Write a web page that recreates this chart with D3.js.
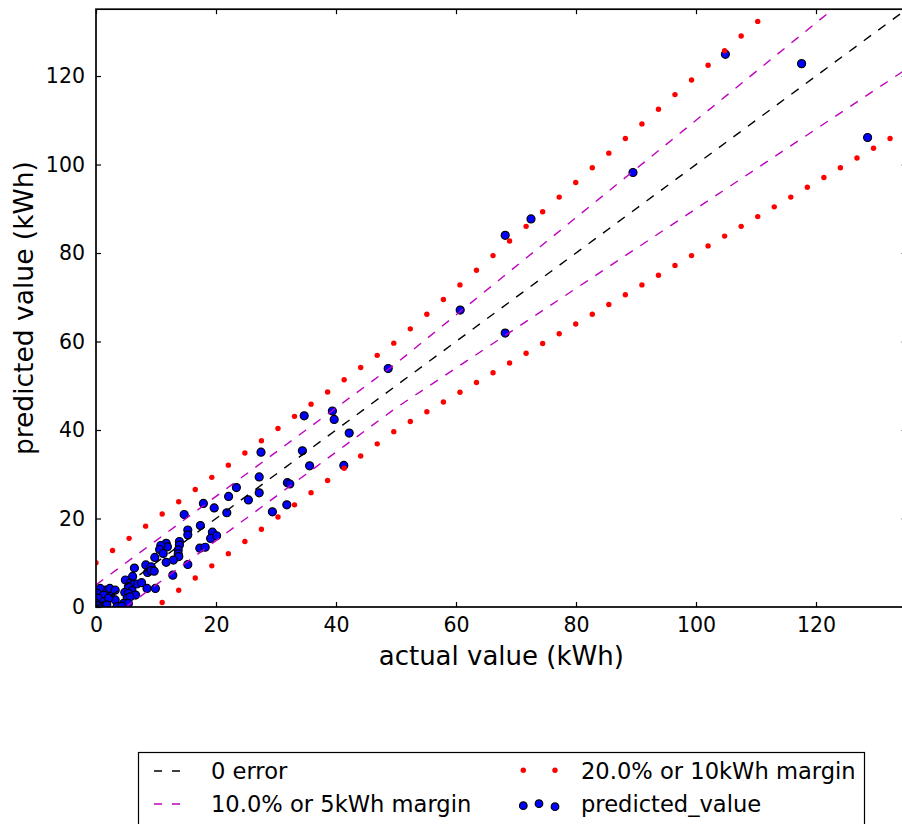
<!DOCTYPE html>
<html>
<head>
<meta charset="utf-8">
<script src="https://cdn.jsdelivr.net/npm/d3@7"></script>
<style>
  body { margin: 0; background: #fff; }
  svg { display: block; font-family: "DejaVu Sans", sans-serif; }
</style>
</head>
<body>
<div id="chart"></div>
<script>
// scatter: actual vs predicted (kWh)
const actual = [128.6, 117.6, 104.9, 89.5, 72.5, 68.2, 68.2, 60.7, 48.7, 42.2, 41.3,
  34.7, 39.4, 39.7, 27.5, 34.4, 35.6, 27.2, 31.9, 32.3, 23.4, 27.2, 22.1, 25.4, 17.9,
  19.7, 21.8, 29.4, 31.8, 14.7, 15.3, 15.3, 17.4, 19.4, 19.1, 20.1, 17.3, 18.2, 15.3,
  11.7, 11.9, 10.8, 10.6, 11.2, 13.9, 13.9, 13.7, 13.7, 13.8, 12.9, 9.8, 11.7, 8.3,
  9.2, 8.6, 9.2, 9.7, 12.8,
  6.4, 6.1, 4.9, 6.8, 5.7, 5.4, 7.6, 8.5, 9.9, 6.0, 4.8, 5.4, 6.6, 5.2, 5.7, 4.6, 5.4,
  3.2, 2.5, 1.6, 0.7, 0.2, 1.3, 0.4, 0.0, 1.3, 2.1, 1.8, 3.5, 2.3, 3.2, 4.3, 0.3];
const predicted = [106.1, 122.8, 124.9, 98.2, 87.7, 84.0, 61.9, 67.1, 53.9, 39.3, 32.0,
  43.2, 44.3, 42.4, 35.0, 35.3, 31.9, 29.4, 28.1, 27.8, 27.0, 25.8, 25.0, 24.2, 23.4,
  22.4, 21.3, 21.5, 23.1, 20.9, 17.4, 16.3, 18.4, 16.9, 15.5, 16.1, 13.3, 13.5, 9.6,
  14.4, 13.6, 13.9, 13.0, 12.1, 14.8, 14.0, 12.9, 12.0, 11.4, 10.6, 11.2, 10.1, 9.5,
  9.1, 7.8, 8.2, 8.1, 7.2,
  8.8, 6.9, 6.1, 5.2, 5.4, 4.6, 5.5, 4.2, 4.2, 3.7, 3.3, 3.1, 2.7, 2.0, 2.3, 0.8, 0.8,
  1.6, 3.1, 3.8, 4.2, 3.1, 2.7, 2.0, 0.8, 1.2, 2.0, 0.5, 0.1, 4.2, 3.8, 0.2, 0.3];

// 20% or 10kWh margin, sampled points
const marginX = [0, 2.757, 5.514, 8.271, 11.029, 13.786, 16.543, 19.3, 22.057, 24.814,
  27.571, 30.329, 33.086, 35.843, 38.6, 41.357, 44.114, 46.871, 49.629, 52.386,
  55.143, 57.9, 60.657, 63.414, 66.171, 68.929, 71.686, 74.443, 77.2, 79.957,
  82.714, 85.471, 88.229, 90.986, 93.743, 96.5, 99.257, 102.014, 104.771, 107.529,
  110.286, 113.043, 115.8, 118.557, 121.314, 124.071, 126.829, 129.586, 132.343, 135.1];
const upper20 = [10, 12.76, 15.51, 18.27, 21.03, 23.79, 26.54, 29.3, 32.06, 34.81,
  37.57, 40.33, 43.09, 45.84, 48.6, 51.36, 54.11, 56.87, 59.63, 62.86,
  66.17, 69.48, 72.79, 76.1, 79.41, 82.71, 86.02, 89.33, 92.64, 95.95,
  99.26, 102.57, 105.87, 109.18, 112.49, 115.8, 119.11, 122.42, 125.73, 129.03,
  132.34, 135.65, 138.96, 142.27, 145.58, 148.89, 152.19, 155.5, 158.81, 162.12];
const lower20 = [-10, -7.24, -4.49, -1.73, 1.03, 3.79, 6.54, 9.3, 12.06, 14.81,
  17.57, 20.33, 23.09, 25.84, 28.6, 31.36, 34.11, 36.87, 39.63, 41.91,
  44.11, 46.32, 48.53, 50.73, 52.94, 55.14, 57.35, 59.55, 61.76, 63.97,
  66.17, 68.38, 70.58, 72.79, 74.99, 77.2, 79.41, 81.61, 83.82, 86.02,
  88.23, 90.43, 92.64, 94.85, 97.05, 99.26, 101.46, 103.67, 105.87, 108.08];

// dashed reference lines
const lineX = [0, 50, 135.1];
const zeroError = [0, 50, 135.1];
const upper10 = [5, 55, 148.61];
const lower10 = [-5, 45, 121.59];

const tickValues = [0, 20, 40, 60, 80, 100, 120];
const legendLabels = ["0 error", "10.0% or 5kWh margin", "20.0% or 10kWh margin", "predicted_value"];

const width = 902, height = 824;
const plotLeft = 96, plotTop = 9.2, plotBottom = 607;
const xMax = 135.1, yMax = 135.1;

const x = d3.scaleLinear().domain([0, xMax]).range([plotLeft, plotLeft + xMax * 6.0]);
const y = d3.scaleLinear().domain([0, yMax]).range([plotBottom, plotTop]);
const plotRight = x(xMax);

const svg = d3.select("#chart").append("svg")
  .attr("width", width)
  .attr("height", height);

svg.append("defs").append("clipPath").attr("id", "plotClip")
  .append("rect")
  .attr("x", plotLeft).attr("y", plotTop)
  .attr("width", plotRight - plotLeft).attr("height", plotBottom - plotTop);

const plot = svg.append("g").attr("clip-path", "url(#plotClip)");

// scatter first
const pts = actual.map((a, i) => ({a: a, p: predicted[i]}));
plot.append("g").selectAll("circle")
  .data(pts)
  .join("circle")
  .attr("cx", d => x(d.a))
  .attr("cy", d => y(d.p))
  .attr("r", 4.0)
  .attr("fill", "#0000ff")
  .attr("stroke", "#000")
  .attr("stroke-width", 1.2);

const line = d3.line().x(d => x(d[0])).y(d => y(d[1]));

function dashed(ys, color) {
  plot.append("path")
    .attr("d", line(lineX.map((v, i) => [v, ys[i]])))
    .attr("fill", "none")
    .attr("stroke", color)
    .attr("stroke-width", 1.4)
    .attr("stroke-dasharray", "9,9");
}
dashed(zeroError, "#000");
dashed(upper10, "#bf00bf");
dashed(lower10, "#bf00bf");

const redPts = marginX.map((v, i) => [v, upper20[i]])
  .concat(marginX.map((v, i) => [v, lower20[i]]));
plot.append("g").selectAll("circle")
  .data(redPts)
  .join("circle")
  .attr("cx", d => x(d[0]))
  .attr("cy", d => y(d[1]))
  .attr("r", 2.7)
  .attr("fill", "#ff0000");

// frame
svg.append("rect")
  .attr("x", plotLeft).attr("y", plotTop)
  .attr("width", plotRight - plotLeft).attr("height", plotBottom - plotTop)
  .attr("fill", "none")
  .attr("stroke", "#000")
  .attr("stroke-width", 1.7);

// axes, ticks pointing inward on all sides
const tickLen = 5;
svg.append("g")
  .attr("transform", `translate(0,${plotBottom})`)
  .call(d3.axisBottom(x).tickValues(tickValues).tickSizeInner(-tickLen).tickSizeOuter(0).tickPadding(10))
  .call(g => g.select(".domain").remove());
svg.append("g")
  .attr("transform", `translate(0,${plotTop})`)
  .call(d3.axisTop(x).tickValues(tickValues).tickSizeInner(-tickLen).tickSizeOuter(0).tickFormat(""))
  .call(g => g.select(".domain").remove());
svg.append("g")
  .attr("transform", `translate(${plotLeft},0)`)
  .call(d3.axisLeft(y).tickValues(tickValues).tickSizeInner(-tickLen).tickSizeOuter(0).tickPadding(11))
  .call(g => g.select(".domain").remove());
svg.append("g")
  .attr("transform", `translate(${plotRight},0)`)
  .call(d3.axisRight(y).tickValues(tickValues).tickSizeInner(-tickLen).tickSizeOuter(0).tickFormat(""))
  .call(g => g.select(".domain").remove());

svg.selectAll(".tick line").attr("stroke", "#000").attr("stroke-width", 1.2);
svg.selectAll(".tick text")
  .attr("fill", "#000")
  .style("font-family", "DejaVu Sans, sans-serif")
  .style("font-size", "20.5px");

// axis labels
svg.append("text")
  .attr("x", (plotLeft + plotRight) / 2)
  .attr("y", 665)
  .attr("text-anchor", "middle")
  .style("font-size", "26px")
  .text("actual value (kWh)");
svg.append("text")
  .attr("transform", `translate(33,${(plotTop + plotBottom) / 2}) rotate(-90)`)
  .attr("text-anchor", "middle")
  .style("font-size", "26.5px")
  .text("predicted value (kWh)");

// legend
const lg = svg.append("g");
lg.append("rect")
  .attr("x", 138.5).attr("y", 752.5)
  .attr("width", 726).attr("height", 90)
  .attr("fill", "#fff")
  .attr("stroke", "#000")
  .attr("stroke-width", 1.2);

const row1 = 771, row2 = 804;
lg.append("line").attr("x1", 154).attr("x2", 182).attr("y1", row1).attr("y2", row1)
  .attr("stroke", "#000").attr("stroke-width", 1.4).attr("stroke-dasharray", "8,10");
lg.append("line").attr("x1", 154).attr("x2", 182).attr("y1", row2).attr("y2", row2)
  .attr("stroke", "#bf00bf").attr("stroke-width", 1.4).attr("stroke-dasharray", "8,10");
lg.selectAll(".rdot").data([523.3, 555]).join("circle")
  .attr("cx", d => d).attr("cy", row1 - 0.7).attr("r", 2.7).attr("fill", "#ff0000");
lg.selectAll(".bdot").data([[523.3, 805.7], [539, 803.7], [555, 806.7]]).join("circle")
  .attr("cx", d => d[0]).attr("cy", d => d[1]).attr("r", 3.8)
  .attr("fill", "#0000ff").attr("stroke", "#000").attr("stroke-width", 1.2);

const legendPos = [[211, row1], [211, row2], [581, row1], [581, row2]];
lg.selectAll(".ltxt").data(legendLabels).join("text")
  .attr("x", (d, i) => legendPos[i][0])
  .attr("y", (d, i) => legendPos[i][1])
  .attr("dy", "0.36em")
  .style("font-size", "22.6px")
  .text(d => d);
</script>
</body>
</html>
